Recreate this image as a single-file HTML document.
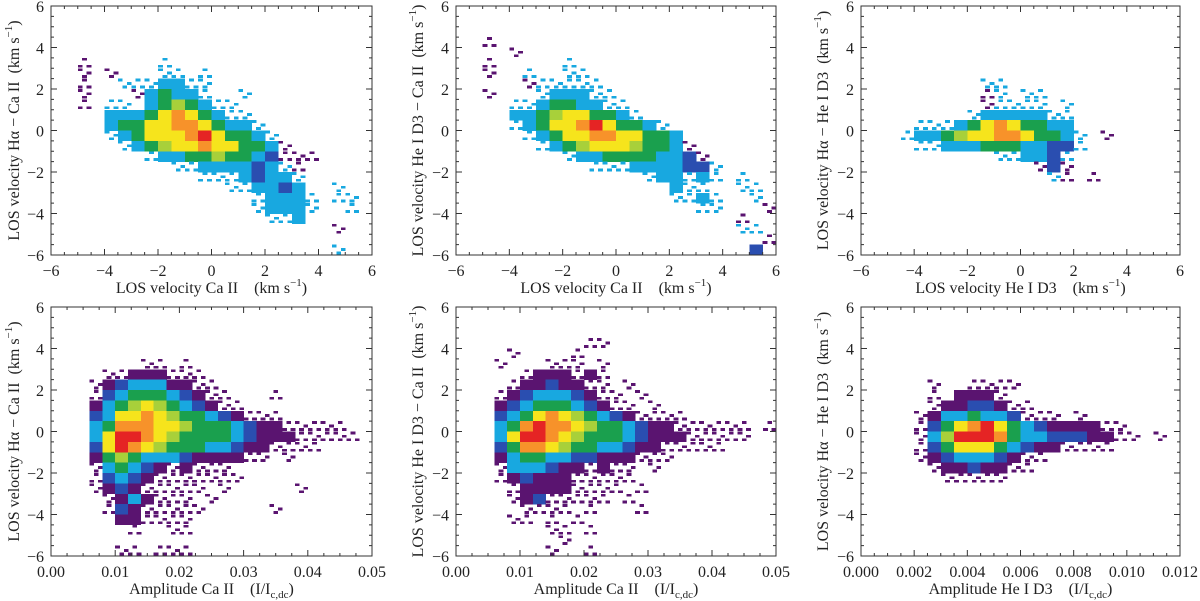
<!DOCTYPE html>
<html><head><meta charset="utf-8"><style>
html,body{margin:0;padding:0;background:#fff;}
svg{display:block;font-family:"Liberation Serif","DejaVu Serif",serif;}
</style></head><body>
<svg id="fig" width="1200" height="601" viewBox="0 0 1200 601" xmlns="http://www.w3.org/2000/svg"></svg>
<script>
// Histogram density grids (rows from v=+6 down to -6, 0.5 km/s bins)
// ' ' empty, '.' sparse cyan, ':' sparse purple, p b c g l y o r density levels
const gridCaHaVsCa = [
"","","","","",
"  :     .",
"  : :   .. .",
"  :  ...cc..",
"  :   :cgcc.  .",
"  : .. cglgc..",
"    cccgyoygc..",
"    cggyyooygcc.",
"    .cgyyyoryggc.",
"     .cglyyoyyggc:",
"       .ccgglggcb:::",
"         ..ccccbc.:",
"           ...cbcc.",
"             ..ccbc  .",
"               .ccc. ..",
"               .ccc.  .",
"                ..c",
"                     :",
"",
"                     ."];
const gridHeCaVsCa = [
"","","",
"  :",
"    :",
"  :     .",
"  :  .  ..",
"     :.....",
"  :   .ccc..",
"    ..cggcc..",
"    ccglyyggc.",
"    .cgyyoryggc.",
"     .cgyyooyyggc",
"      .cglyyylggc:",
"        .ccggggccb:",
"          ...ccccbb.",
"              .cc.c. .",
"                c..  ..",
"                ..c.  .",
"                  ..   :",
"                     :",
"                     ..",
"                       :",
"                      b"];
const gridHaHeVsHe = [
"","","","","","","",
"         ..",
"         :. ..",
"         :.... .",
"        .ccccc..",
"    ...cgyoyggcc",
"   .ccglyyooyggc. :",
"    ..cccgggccbb.",
"          ..ccb.",
"             :b:",
"              .: :",
"","","","","","",""];
const gridHaCaVsAmp = [
"","","","","",
"       :: :",
"    ::ppp:::",
"   :pbcccpp::",
"   :bcgggcbp::   :",
"   pcglylgcbp::",
"   bcyyoylggcbp:::",
"   cgoooyylgggcbpp:::::",
"   cyrroylggggcbppp:::::",
"   byroylgggccbpp::::",
"   pglgcccbpppp:: :",
"   :cgcbp:p:::",
"   :bcbp:::::::",
"   :pbp::::: :     :",
"    :pcp::: :",
"    :bp:::::     :",
"     pp::::",
"      :  ::",
"",
"     :: :::"];
const gridHeCaVsAmp = [
"","","",
"          ::",
"    :    :",
"   :   ::: :",
"     :ppp:p:",
"    :ppbpp:: :",
"   :pbcccbp:: :",
"   pbcgggcbp:: :",
"   bcgyoylgcbp::::",
"   cgorooylggcbpp:::::: :",
"   cyrroylgggcbppp:::::",
"   bgooylggccbpp:::::",
"   pcggccbbppp:::",
"   :cccbpp:p:: :",
"   :pbppp:::::",
"    :pppp:::: :",
"    :pb::::: :",
"     :::: :   :",
"    :: : :",
"       :: :",
"        :",
"       :  :"];
const gridHaHeVsAmp = [
"","","","","","","",
"     :  ::::",
"     : ppp:",
"     :ppbbp::",
"    :pccgccb::: :",
"    :bgyorygcbpppp::",
"    :clrrrogccbbbpp:: :",
"    :bgyyygcbpp::::",
"    :pbcccbp::",
"     :ppbpp::",
"      :::::",
"","","","","","",""];

const velTicks = [-6,-4,-2,0,2,4,6];
const velTickLabels = ["\u22126","\u22124","\u22122","0","2","4","6"];
const ampTicks = [0,0.01,0.02,0.03,0.04,0.05];
const ampTickLabels = ["0.00","0.01","0.02","0.03","0.04","0.05"];
const heAmpTicks = [0,0.002,0.004,0.006,0.008,0.010,0.012];
const heAmpTickLabels = ["0.000","0.002","0.004","0.006","0.008","0.010","0.012"];

const colors = {p:"#5a1470", b:"#2a4eb0", c:"#18a8e0", g:"#1aa04e", l:"#a8d03a", y:"#f6e41c", o:"#f7922a", r:"#e52424", ".":"#18a8e0", ":":"#5a1470"};
const NS="http://www.w3.org/2000/svg";
const svg=document.getElementById('fig');
function mk(tag,attrs,parent){const e=document.createElementNS(NS,tag);for(const k in attrs)e.setAttribute(k,attrs[k]);(parent||svg).appendChild(e);return e;}

const panels=[
 {id:"ha-ca-vs-ca",L:51,R:372,T:6,B:255,xmin:-6,xmax:6,xbin:0.5,xminor:0.5,grid:gridCaHaVsCa,xt:velTicks,xl:velTickLabels,
  xtitle:['LOS velocity Ca II   (km s','\u22121',')'],ytitle:['LOS velocity H\u03b1 \u2212 Ca II  (km s','\u22121',')'],ytx:14},
 {id:"he-ca-vs-ca",L:456,R:776,T:6,B:255,xmin:-6,xmax:6,xbin:0.5,xminor:0.5,grid:gridHeCaVsCa,xt:velTicks,xl:velTickLabels,
  xtitle:['LOS velocity Ca II   (km s','\u22121',')'],ytitle:['LOS velocity He I D3 \u2212 Ca II  (km s','\u22121',')'],ytx:418},
 {id:"ha-he-vs-he",L:861,R:1180,T:6,B:255,xmin:-6,xmax:6,xbin:0.5,xminor:0.5,grid:gridHaHeVsHe,xt:velTicks,xl:velTickLabels,
  xtitle:['LOS velocity He I D3   (km s','\u22121',')'],ytitle:['LOS velocity H\u03b1 \u2212 He I D3  (km s','\u22121',')'],ytx:823},
 {id:"ha-ca-vs-amp",L:51,R:372,T:307,B:556,xmin:0,xmax:0.05,xbin:0.002,xminor:0.0025,grid:gridHaCaVsAmp,xt:ampTicks,xl:ampTickLabels,
  xtitle:['Amplitude Ca II   (I/I','c,dc',')'],sub:true,ytitle:['LOS velocity H\u03b1 \u2212 Ca II  (km s','\u22121',')'],ytx:14},
 {id:"he-ca-vs-amp",L:456,R:776,T:307,B:556,xmin:0,xmax:0.05,xbin:0.002,xminor:0.0025,grid:gridHeCaVsAmp,xt:ampTicks,xl:ampTickLabels,
  xtitle:['Amplitude Ca II   (I/I','c,dc',')'],sub:true,ytitle:['LOS velocity He I D3 \u2212 Ca II  (km s','\u22121',')'],ytx:418},
 {id:"ha-he-vs-amp",L:861,R:1180,T:307,B:556,xmin:0,xmax:0.012,xbin:0.0005,xminor:0.0005,grid:gridHaHeVsAmp,xt:heAmpTicks,xl:heAmpTickLabels,
  xtitle:['Amplitude He I D3   (I/I','c,dc',')'],sub:true,ytitle:['LOS velocity H\u03b1 \u2212 He I D3  (km s','\u22121',')'],ytx:823}
];

panels.forEach(P=>{
  const g=mk('g',{});
  
  
  const xs=v=>P.L+(v-P.xmin)/(P.xmax-P.xmin)*(P.R-P.L);
  const ys=v=>P.B-(v+6)/12*(P.B-P.T);
  const cg=mk('g',{'shape-rendering':'crispEdges'},g);
  
  
  P.grid.forEach((row,ri)=>{
    const v1=6-ri*0.5, v0=v1-0.5;
    for(let ci=0;ci<row.length;ci++){
      const ch=row[ci]; if(ch===' ')continue;
      const a0=P.xmin+ci*P.xbin, a1=a0+P.xbin;
      const x0=xs(a0),x1=xs(a1),y0=ys(v1),y1=ys(v0);
      if(ch==='.'||ch===':'){
        // sparse cell: speckle of a few small squares
        const w=(x1-x0)/3,h=(y1-y0)/3;
        const spots=((ri+ci)%2===0)?[[0,0],[2,1],[1,2]]:[[1,0],[0,2],[2,2]];
        spots.forEach(s=>{
          const r=mk('rect',{x:(x0+s[0]*w).toFixed(2),y:(y0+s[1]*h).toFixed(2),width:(w+0.4).toFixed(2),height:(h*0.8).toFixed(2),fill:colors[ch]},cg);
          
          
        });
      } else {
        const r=mk('rect',{x:x0.toFixed(2),y:y0.toFixed(2),width:(x1-x0+0.3).toFixed(2),height:(y1-y0+0.3).toFixed(2),fill:colors[ch]},cg);
        
        
      }
    }
  });
  const fr=mk('rect',{x:P.L,y:P.T,width:P.R-P.L,height:P.B-P.T,fill:'none',stroke:'#333','stroke-width':1},g);
  
  
  const tg=mk('g',{stroke:'#333','stroke-width':1},g);
  
  
  const nx=Math.round((P.xmax-P.xmin)/P.xminor);
  for(let i=0;i<=nx;i++){
    const v=P.xmin+i*P.xminor; const x=xs(v);
    const major=P.xt.some(t=>Math.abs(t-v)<P.xminor*0.1); const len=major?6:3;
    mk('line',{x1:x,y1:P.B,x2:x,y2:P.B-len},tg); mk('line',{x1:x,y1:P.T,x2:x,y2:P.T+len},tg);
  }
  for(let i=0;i<=24;i++){
    const v=-6+i*0.5; const y=ys(v); const major=(Math.abs(v%2)<1e-6); const len=major?6:3;
    mk('line',{x1:P.L,y1:y,x2:P.L+len,y2:y},tg); mk('line',{x1:P.R,y1:y,x2:P.R-len,y2:y},tg);
  }
  P.xt.forEach((t,i)=>{
    const e=mk('text',{x:xs(t),y:P.B+21,'text-anchor':'middle','font-size':16,fill:'#222'},g);
    e.textContent=P.xl[i];
    
    
  });
  velTicks.forEach((t,i)=>{
    const e=mk('text',{x:P.L-7,y:ys(t)+6,'text-anchor':'end','font-size':16,fill:'#222'},g);
    e.textContent=velTickLabels[i];
    
    
  });
  const xt=mk('text',{x:(P.L+P.R)/2,y:P.B+38,'text-anchor':'middle','font-size':16,fill:'#222','xml:space':'preserve'},g);
  
  
  const s1=mk('tspan',{},xt); s1.textContent=P.xtitle[0].replace('   ','\u2002\u2002');
  const s2=mk('tspan',{'font-size':11,dy:P.sub?4:-7},xt); s2.textContent=P.xtitle[1];
  const s3=mk('tspan',{dy:P.sub?-4:7},xt); s3.textContent=P.xtitle[2];
  const cy=(P.T+P.B)/2;
  const yt=mk('text',{x:P.ytx,y:cy,'text-anchor':'middle','font-size':16,fill:'#222',transform:`rotate(-90 ${P.ytx} ${cy}) translate(0 5)`},g);
  
  
  const u1=mk('tspan',{},yt); u1.textContent=P.ytitle[0].replace('  ','\u2002');
  const u2=mk('tspan',{'font-size':11,dy:-7},yt); u2.textContent=P.ytitle[1];
  const u3=mk('tspan',{dy:7},yt); u3.textContent=P.ytitle[2];
});
</script>
</body></html>
